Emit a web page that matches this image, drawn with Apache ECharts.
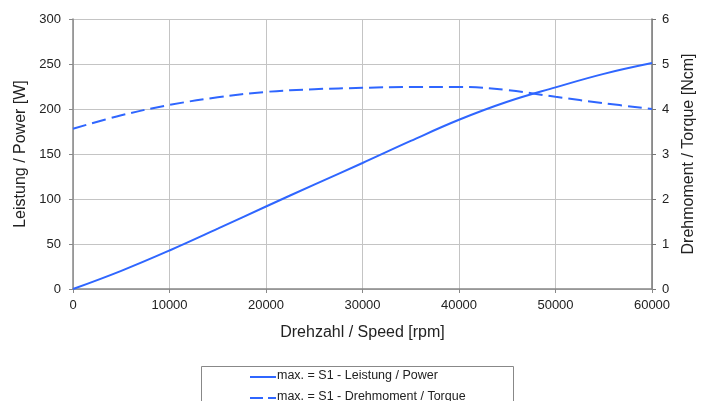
<!DOCTYPE html>
<html>
<head>
<meta charset="utf-8">
<script src="https://cdn.jsdelivr.net/npm/echarts@6/dist/echarts.min.js"></script>
<style>
  html, body { margin: 0; padding: 0; background: #fff; }
  #chart { width: 705px; height: 401px; }
</style>
</head>
<body>
<div id="chart"></div>
<script>
// Motor characteristic: speed (rpm) vs. power (W) and torque (Ncm)
const speed   = [0, 5000, 10000, 15000, 20000, 25000, 30000, 35000, 40000, 45000, 50000, 55000, 60000];
const power   = [0, 20.2, 42.8, 67, 91.7, 116, 140, 164.5, 188, 208, 224, 239, 251];
const torque  = [3.56, 3.86, 4.09, 4.26, 4.38, 4.44, 4.47, 4.49, 4.49, 4.42, 4.27, 4.13, 4.0];

const powerName  = 'max. = S1 - Leistung / Power';
const torqueName = 'max. = S1 - Drehmoment / Torque';

const lineColor = '#2f66ff';
const font = 'Liberation Sans, Arial, sans-serif';

const chart = echarts.init(document.getElementById('chart'), null, { renderer: 'canvas' });

const axisLabel = { color: '#222', fontFamily: font, fontSize: 13, formatter: v => String(v) };
const nameStyle = { color: '#222', fontFamily: font, fontSize: 16 };

// Legend box with line samples and series names
const legendText = (y, text) => ({
  type: 'text', left: 277, top: y - 8,
  style: { text: text, fill: '#222', font: '12.5px ' + font }
});
const legendGraphic = [
  { type: 'rect', shape: { x: 201.5, y: 366.5, width: 312, height: 60 },
    style: { fill: '#fff', stroke: '#888', lineWidth: 1 } },
  { type: 'line', shape: { x1: 250, y1: 377, x2: 276, y2: 377 },
    style: { stroke: lineColor, lineWidth: 2 } },
  legendText(377, powerName),
  { type: 'line', shape: { x1: 250, y1: 398, x2: 276, y2: 398 },
    style: { stroke: lineColor, lineWidth: 2, lineDash: [13, 5] } },
  legendText(398, torqueName)
];

chart.setOption({
  animation: false,
  grid: { left: 73, right: 53, top: 19, bottom: 112 },
  legend: { show: false, data: [powerName, torqueName] },
  graphic: legendGraphic,
  xAxis: {
    type: 'value',
    min: 0, max: 60000, interval: 10000,
    name: 'Drehzahl / Speed [rpm]',
    nameLocation: 'middle',
    nameGap: 36,
    nameTextStyle: nameStyle,
    axisLine: { lineStyle: { color: '#888', width: 1.5 } },
    axisTick: { show: true, length: 4, lineStyle: { color: '#888' } },
    axisLabel: Object.assign({ margin: 10 }, axisLabel),
    splitLine: { lineStyle: { color: '#c4c4c4', width: 1 } }
  },
  yAxis: [
    {
      type: 'value',
      min: 0, max: 300, interval: 50,
      name: 'Leistung / Power [W]',
      nameLocation: 'middle',
      nameGap: 42,
      nameTextStyle: nameStyle,
      axisLine: { show: true, lineStyle: { color: '#888', width: 1.5 } },
      axisTick: { show: true, length: 4, lineStyle: { color: '#888' } },
      axisLabel: Object.assign({ margin: 12 }, axisLabel),
      splitLine: { lineStyle: { color: '#c4c4c4', width: 1 } }
    },
    {
      type: 'value',
      min: 0, max: 6, interval: 1,
      name: 'Drehmoment / Torque [Ncm]',
      nameLocation: 'middle',
      nameGap: 22,
      nameTextStyle: nameStyle,
      position: 'right',
      axisLine: { show: true, lineStyle: { color: '#777', width: 1.5 } },
      axisTick: { show: true, length: 4, lineStyle: { color: '#777' } },
      axisLabel: Object.assign({ margin: 10 }, axisLabel),
      splitLine: { show: false }
    }
  ],
  series: [
    {
      name: powerName,
      type: 'line',
      yAxisIndex: 0,
      data: speed.map((s, i) => [s, power[i]]),
      smooth: 0.4,
      symbol: 'none',
      lineStyle: { color: lineColor, width: 2 },
      itemStyle: { color: lineColor }
    },
    {
      name: torqueName,
      type: 'line',
      yAxisIndex: 1,
      data: speed.map((s, i) => [s, torque[i]]),
      smooth: 0.4,
      symbol: 'none',
      lineStyle: { color: lineColor, width: 2, type: [14, 6] },
      itemStyle: { color: lineColor }
    }
  ]
});
</script>
</body>
</html>
